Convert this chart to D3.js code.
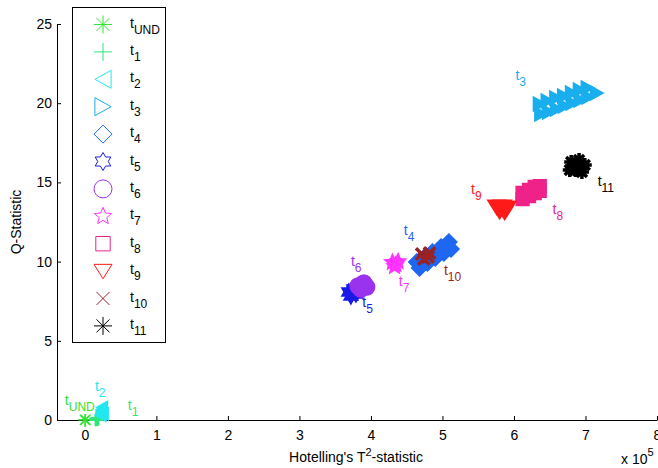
<!DOCTYPE html>
<html>
<head>
<meta charset="utf-8">
<script src="https://cdn.jsdelivr.net/npm/d3@7"></script>
<style>
  body { margin: 0; background: #fff; }
  text { font-family: "Liberation Sans", Arial, sans-serif; }
</style>
</head>
<body>
<div id="chart"></div>
<script>
// class names / colours / marker kinds
var class_names = ['UND', '1', '2', '3', '4', '5', '6', '7', '8', '9', '10', '11'];
var class_colors = ['#33e433', '#2ee67a', '#22e8f0', '#1aaeee', '#1f66f0', '#1a1ae6',
  '#9933ee', '#ff33ff', '#ee2288', '#ff1a1a', '#992222', '#000000'];
var class_markers = ['asterisk', 'plus', 'triLeft', 'triRight', 'diamond', 'hexagram',
  'circle', 'pentagram', 'square', 'triDown', 'cross', 'asterisk'];
var marker_r = [7, 7, 6, 7, 8, 8, 8, 8, 8, 9, 8, 7];

// points per class: [T2 (x 10^5), Q]
var pts_tUND = [[0.0, 0.0], [0.01, 0.02]];
var pts_t1 = [[0.16, 0.05], [0.18, 0.1]];
var pts_t2 = [[0.22, 0.3], [0.23, 0.55], [0.24, 0.8], [0.25, 0.4], [0.23, 0.65]];
var pts_t3 = [[6.36, 19.95], [6.47, 20.14], [6.59, 20.33], [6.70, 20.45], [6.81, 20.64], [6.92, 20.83], [7.03, 20.96],
  [6.38, 19.32], [6.49, 19.44], [6.60, 19.63], [6.71, 19.82], [6.82, 20.01], [6.93, 20.20], [7.04, 20.39], [7.16, 20.64]];
var pts_t4 = [[4.64, 9.97], [4.75, 10.29], [4.86, 10.61], [4.98, 10.92], [5.09, 11.24],
  [4.68, 9.60], [4.79, 9.91], [4.90, 10.23], [5.02, 10.54], [5.12, 10.80]];
var pts_t5 = [[3.69, 8.08], [3.76, 8.27], [3.79, 7.95], [3.72, 7.83]];
var pts_t6 = [[3.82, 8.46], [3.90, 8.65], [3.94, 8.40], [3.86, 8.27]];
var pts_t7 = [[4.30, 9.95], [4.35, 9.82], [4.33, 9.70], [4.38, 10.0]];
var pts_t8 = [[6.12, 14.33], [6.21, 14.52], [6.29, 14.71], [6.36, 14.77],
  [6.12, 13.95], [6.21, 14.14], [6.29, 14.33], [6.36, 14.46]];
var pts_t9 = [[5.76, 13.45], [5.84, 13.45], [5.90, 13.38], [5.80, 13.19], [5.87, 13.13]];
var pts_t10 = [[4.71, 10.48], [4.80, 10.29], [4.82, 10.54], [4.74, 10.16]];
var pts_t11 = [[6.80, 16.29], [6.91, 16.41], [6.99, 16.10], [6.86, 15.78], [6.95, 15.66], [6.78, 15.78], [6.88, 16.0]];
var series = [pts_tUND, pts_t1, pts_t2, pts_t3, pts_t4, pts_t5, pts_t6, pts_t7, pts_t8, pts_t9, pts_t10, pts_t11];

// text annotations next to each cluster (data coords)
var label_pos = [[-0.28, 0.95], [0.60, 0.63], [0.14, 1.83], [6.02, 21.46], [4.46, 11.68], [3.88, 7.13],
  [3.72, 9.72], [4.39, 8.46], [6.54, 13.0], [5.40, 14.27], [5.02, 9.15], [7.17, 14.77]];

var x_ticks = [0, 1, 2, 3, 4, 5, 6, 7, 8];
var y_ticks = [0, 5, 10, 15, 20, 25];

var chart_width = 658;
var chart_height = 468;

var svg = d3.select('#chart')
  .append('svg')
  .attr('width', chart_width)
  .attr('height', chart_height)
  .style('background', '#fff');

var x_scale = d3.scaleLinear().domain([-0.39, 8]).range([57, 657]);
var y_scale = d3.scaleLinear().domain([0, 25]).range([420, 24]);

// marker shapes, r = half size
function markerPath(kind, r) {
  var p = d3.path();
  var d = r * 0.72;
  function poly(pts) {
    pts.forEach(function(q, i) { if (i === 0) p.moveTo(q[0], q[1]); else p.lineTo(q[0], q[1]); });
    p.closePath();
  }
  function star(n, inner) {
    var pts = [];
    for (var i = 0; i < n * 2; i++) {
      var a = -Math.PI / 2 + i * Math.PI / n;
      var rr = i % 2 === 0 ? r : r * inner;
      pts.push([rr * Math.cos(a), rr * Math.sin(a)]);
    }
    poly(pts);
  }
  if (kind === 'asterisk') {
    p.moveTo(-r, 0); p.lineTo(r, 0); p.moveTo(0, -r); p.lineTo(0, r);
    p.moveTo(-d, -d); p.lineTo(d, d); p.moveTo(-d, d); p.lineTo(d, -d);
  } else if (kind === 'plus') {
    p.moveTo(-r, 0); p.lineTo(r, 0); p.moveTo(0, -r); p.lineTo(0, r);
  } else if (kind === 'cross') {
    p.moveTo(-d, -d); p.lineTo(d, d); p.moveTo(-d, d); p.lineTo(d, -d);
  } else if (kind === 'triLeft') {
    poly([[-r * 0.9, 0], [r * 0.9, -r], [r * 0.9, r]]);
  } else if (kind === 'triRight') {
    poly([[r * 0.9, 0], [-r * 0.9, -r], [-r * 0.9, r]]);
  } else if (kind === 'triDown') {
    poly([[-r, -r * 0.75], [r, -r * 0.75], [0, r * 0.85]]);
  } else if (kind === 'diamond') {
    poly([[0, -r], [r, 0], [0, r], [-r, 0]]);
  } else if (kind === 'square') {
    poly([[-r * 0.8, -r * 0.8], [r * 0.8, -r * 0.8], [r * 0.8, r * 0.8], [-r * 0.8, r * 0.8]]);
  } else if (kind === 'circle') {
    p.moveTo(r, 0); p.arc(0, 0, r, 0, Math.PI * 2);
  } else if (kind === 'hexagram') {
    star(6, 0.58);
  } else if (kind === 'pentagram') {
    star(5, 0.45);
  }
  return p.toString();
}

var line_marker = { asterisk: true, plus: true, cross: true };

// axes
var x_axis = d3.axisBottom(x_scale).tickValues(x_ticks).tickSizeInner(-4).tickSizeOuter(0).tickPadding(10);
var y_axis = d3.axisLeft(y_scale).tickValues(y_ticks).tickSizeInner(-4).tickSizeOuter(0).tickPadding(5);

var gx = svg.append('g')
  .attr('class', 'x-axis')
  .attr('transform', 'translate(0,' + y_scale(0) + ')')
  .call(x_axis);
var gy = svg.append('g')
  .attr('class', 'y-axis')
  .attr('transform', 'translate(' + x_scale.range()[0] + ',0)')
  .call(y_axis);
[gx, gy].forEach(function(g) {
  g.attr('font-family', null).attr('font-size', 14);
  g.selectAll('path, line').attr('stroke', '#000');
  g.selectAll('text').attr('fill', '#000');
});

// points
var plot = svg.append('g').attr('id', 'plot-area');
series.forEach(function(pts, i) {
  var kind = class_markers[i];
  var isLine = line_marker[kind];
  plot.append('g')
    .selectAll('path')
    .data(pts)
    .enter()
    .append('path')
    .attr('transform', function(d) {
      return 'translate(' + x_scale(d[0]) + ',' + y_scale(d[1]) + ')';
    })
    .attr('d', markerPath(kind, marker_r[i]))
    .attr('fill', isLine ? 'none' : class_colors[i])
    .attr('stroke', class_colors[i])
    .attr('stroke-width', i === 0 ? 1.2 : (isLine ? 3.5 : 1.5));
});

// cluster labels
function subLabel(g, x, y, sub, color, fs, sfs) {
  var t = g.append('text')
    .attr('x', x)
    .attr('y', y)
    .attr('fill', color)
    .attr('font-size', fs);
  t.append('tspan').text('t');
  t.append('tspan').attr('dy', 6).attr('font-size', sfs).text(sub);
  return t;
}

var labels = svg.append('g');
label_pos.forEach(function(p, i) {
  var g = labels.append('g');
  var t = subLabel(g, x_scale(p[0]), y_scale(p[1]), class_names[i], class_colors[i], 14, 12);
  if (i <= 2) {
    var bb = t.node().getBBox();
    g.insert('rect', 'text')
      .attr('x', bb.x).attr('y', bb.y)
      .attr('width', bb.width).attr('height', bb.height)
      .attr('fill', '#fff');
  }
});

// legend
var legend = svg.append('g');
legend.append('rect')
  .attr('x', 72.5).attr('y', 7.5)
  .attr('width', 93).attr('height', 335)
  .attr('fill', '#fff')
  .attr('stroke', '#000');
class_names.forEach(function(n, i) {
  var cy = 24.5 + i * 27.4;
  legend.append('path')
    .attr('transform', 'translate(103,' + cy + ')')
    .attr('d', markerPath(class_markers[i], 9))
    .attr('fill', 'none')
    .attr('stroke', class_colors[i])
    .attr('stroke-width', 1);
  subLabel(legend, 130, cy + 3, n, '#000', 14, 12);
});

// axis titles
var xt = svg.append('text')
  .attr('x', 356)
  .attr('y', 462)
  .attr('text-anchor', 'middle')
  .attr('font-size', 14)
  .attr('fill', '#000');
xt.append('tspan').text("Hotelling's T");
xt.append('tspan').attr('dy', -6).attr('font-size', 11).text('2');
xt.append('tspan').attr('dy', 6).text('-statistic');

svg.append('text')
  .attr('transform', 'translate(21,222) rotate(-90)')
  .attr('text-anchor', 'middle')
  .attr('font-size', 14)
  .attr('fill', '#000')
  .text('Q-Statistic');

var ex = svg.append('text')
  .attr('x', 621)
  .attr('y', 464)
  .attr('font-size', 14)
  .attr('fill', '#000');
ex.append('tspan').text('x 10');
ex.append('tspan').attr('dy', -8).attr('font-size', 11).text('5');
</script>
</body>
</html>
